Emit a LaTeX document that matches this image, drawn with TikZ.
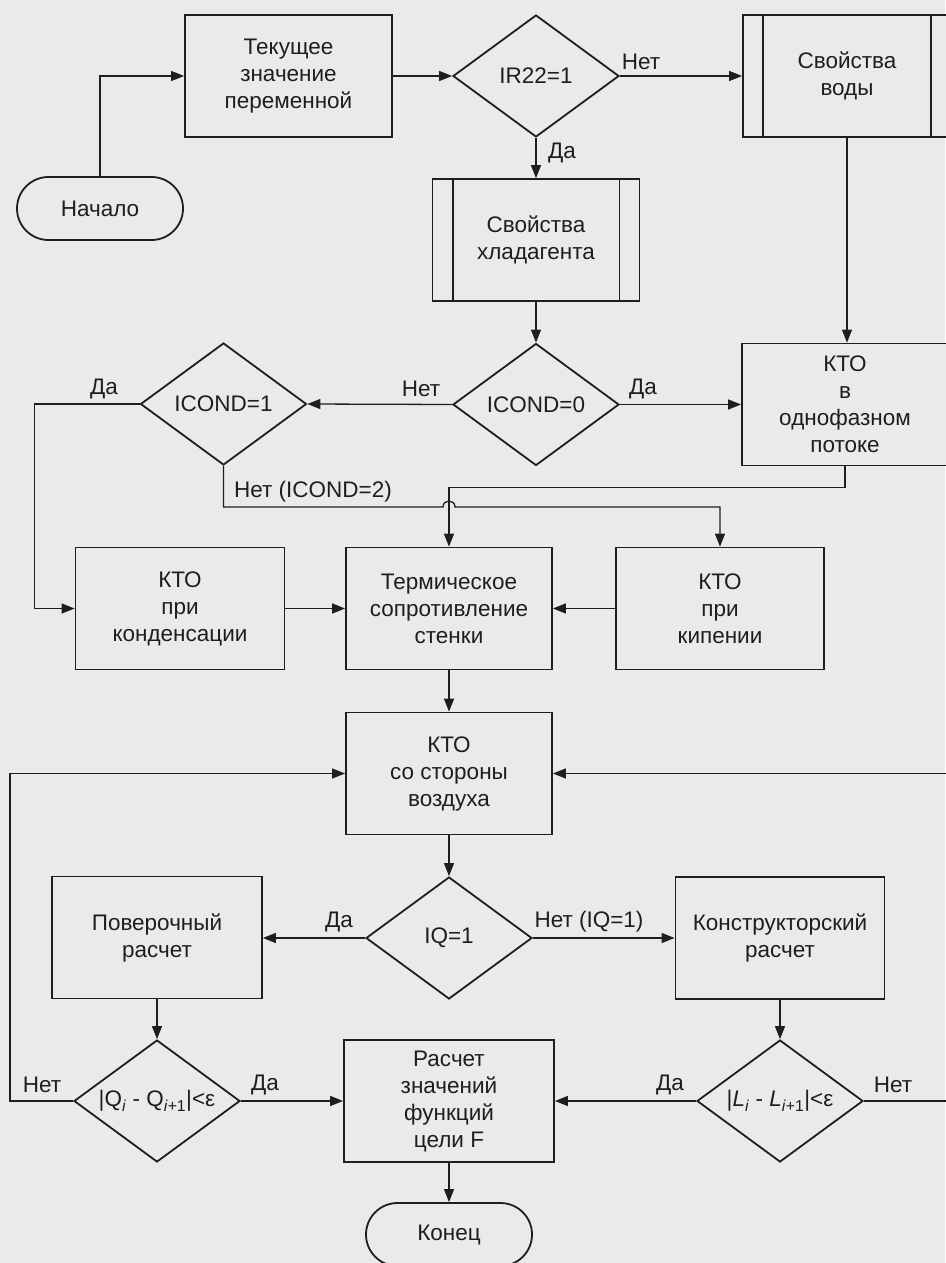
\documentclass[tikz,border=0pt]{standalone}
\usepackage{fontspec}
\setmainfont{Liberation Sans}
\usetikzlibrary{shapes.geometric,shapes.misc,arrows.meta}
\definecolor{bg}{RGB}{234,234,234}
\definecolor{ink}{RGB}{30,30,30}
\newcommand{\flowfont}{\fontsize{22.5}{27}\selectfont}
\tikzset{
  shp/.style={draw=ink, line width=1.8pt, fill=bg, inner sep=0pt, align=center, font=\flowfont, text=ink},
  procbox/.style={shp, rectangle, minimum width=208pt, minimum height=122pt},
  termbox/.style={shp, rounded rectangle, minimum width=166pt, minimum height=63pt},
  decbox/.style={shp, diamond, minimum width=166pt, minimum height=122pt},
  conn/.style={draw=ink, line width=1.3pt},
  arr/.style={conn, -{Triangle[length=13pt,width=10pt]}},
  lbl/.style={font=\flowfont, text=ink, inner sep=0pt}
}
\begin{document}
\begin{tikzpicture}[x=1pt,y=-1pt]
\fill[bg] (0,0) rectangle (945,1263);
\useasboundingbox (0,0) rectangle (945,1263);

% nodes
\node[termbox] (start) at (100,208.5) {Начало};
\node[procbox, minimum width=207pt] (cur) at (288.5,76) {Текущее\\значение\\переменной};
\node[decbox] (ir) at (536,76) {\makebox[0pt]{IR22=1}};
\node[procbox] (water) at (847,76) {Свойства\\воды};
\node[procbox, minimum width=207pt] (ref) at (536,240) {Свойства\\хладагента};
\node[decbox] (c0) at (536,404.5) {\makebox[0pt]{ICOND=0}};
\node[decbox] (c1) at (223.5,404) {\makebox[0pt]{ICOND=1}};
\node[procbox, minimum width=206pt] (kto1) at (845,404.5) {КТО\\в\\однофазном\\потоке};
\node[procbox, minimum width=209pt] (kond) at (180,608.5) {КТО\\при\\конденсации};
\node[procbox, minimum width=206pt] (term) at (449,608.5) {Термическое\\сопротивление\\стенки};
\node[procbox] (kip) at (720,608.5) {КТО\\при\\кипении};
\node[procbox, minimum width=206pt] (air) at (449,773.5) {КТО\\со стороны\\воздуха};
\node[decbox] (iq) at (449,938) {\makebox[0pt]{IQ=1}};
\node[procbox, minimum width=210pt] (pov) at (157,937.5) {Поверочный\\расчет};
\node[procbox, minimum width=209pt] (kon) at (780,938) {Конструкторский\\расчет};
\node[decbox] (dq) at (157,1101) {\makebox[0pt]{|Q\textsubscript{\textit{i}} - Q\textsubscript{\textit{i}+1}|<ε}};
\node[procbox, minimum width=210pt] (calc) at (449,1101) {Расчет\\значений\\функций\\цели F};
\node[decbox] (dl) at (780,1101) {\makebox[0pt]{|\textit{L}\textsubscript{\textit{i}} - \textit{L}\textsubscript{\textit{i}+1}|<ε}};
\node[termbox] (fin) at (449,1234.5) {Конец};

% predefined-process side bars
\foreach \n in {water,ref}{
  \draw[ink, line width=1.8pt] ([xshift=21pt]\n.north west) -- ([xshift=21pt]\n.south west);
  \draw[ink, line width=1.8pt] ([xshift=-21pt]\n.north east) -- ([xshift=-21pt]\n.south east);
}

% connectors
\draw[arr] (start.north) |- (cur.west);
\draw[arr] (cur.east) -- (ir.west);
\draw[arr] (ir.east) -- (water.west);
\draw[arr] (ir.south) -- (ref.north);
\draw[arr] (ref.south) -- (c0.north);
\draw[arr] (water.south) -- (water.south |- kto1.north);
\draw[arr] (c0.east) -- (kto1.west);
\draw[arr] (c0.west) -- (c1.east);
\draw[arr] (c1.west) -- ++(-105,0) |- (kond.west);
\coordinate (hopL) at (443,507);
\coordinate (hopR) at (455,507);
\draw[arr] (c1.south) |- (hopL) .. controls (443,499) and (455,499) .. (hopR) -| (kip.north);
\draw[arr] (kto1.south) -- ++(0,21) -| (term.north);
\draw[arr] (kond.east) -- (term.west);
\draw[arr] (kip.west) -- (term.east);
\draw[arr] (term.south) -- (air.north);
\draw[arr] (air.south) -- (iq.north);
\draw[arr] (iq.west) -- (pov.east |- iq.west);
\draw[arr] (iq.east) -- (kon.west);
\draw[arr] (pov.south) -- (pov.south |- dq.north);
\draw[arr] (kon.south) -- (dl.north);
\draw[arr] (dq.east) -- (calc.west);
\draw[arr] (dl.west) -- (calc.east);
\draw[arr] (calc.south) -- (fin.north);
\draw[arr] (dq.west) -- ++(-63,0) |- (air.west);
\draw[arr] (dl.east) -- ++(92,0) |- (air.east);

% labels
\node[lbl] (l1) at (641,62) {Нет};
\node[lbl] (l2) at (562,153) {Да};
\node[lbl] (l3) at (643,389) {Да};
\node[lbl] (l4) at (421,389) {Нет};
\node[lbl] (l5) at (104,389) {Да};
\node[lbl] (l6) at (313,492) {Нет (ICOND=2)};
\node[lbl] (l7) at (339,922) {Да};
\node[lbl] (l8) at (589,922) {Нет (IQ=1)};
\node[lbl] (l9) at (42,1085) {Нет};
\node[lbl] (l10) at (265,1085) {Да};
\node[lbl] (l11) at (670,1085) {Да};
\node[lbl] (l12) at (893,1085) {Нет};
\end{tikzpicture}
\end{document}
